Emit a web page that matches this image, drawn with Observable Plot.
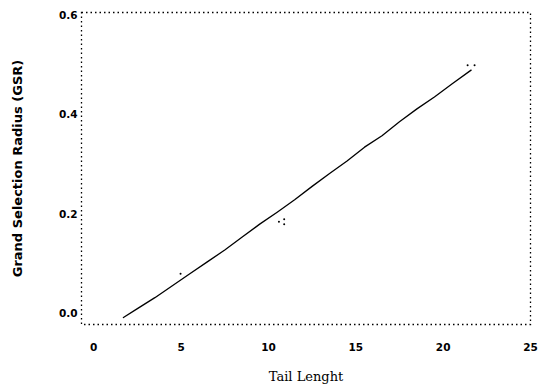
<!DOCTYPE html>
<html>
<head>
<meta charset="utf-8">
<script src="https://cdn.jsdelivr.net/npm/d3@7"></script>
<script src="https://cdn.jsdelivr.net/npm/@observablehq/plot@0.6"></script>
<style>
  html, body { margin: 0; padding: 0; background: #fff; }
</style>
</head>
<body>
<div id="chart"></div>
<script>
// Fitted line readings
const lineX = [1.7, 2.5, 3.5, 4.5, 5.5, 6.5, 7.5, 8.5, 9.5, 10.5, 11.5, 12.5, 13.5, 14.5, 15.5, 16.5, 17.5, 18.5, 19.5, 20.5, 21.6];
const lineY = [-0.008, 0.010, 0.032, 0.056, 0.080, 0.104, 0.128, 0.154, 0.180, 0.204, 0.229, 0.256, 0.282, 0.307, 0.335, 0.358, 0.386, 0.412, 0.436, 0.462, 0.490];
// Scattered points
const ptX = [4.97, 10.6, 10.9, 10.9, 21.4, 21.8];
const ptY = [0.080, 0.185, 0.190, 0.180, 0.500, 0.500];
// Tick labels
const xTicks = [0, 5, 10, 15, 20, 25];
const yTicks = [0, 0.2, 0.4, 0.6];

const lineData = lineX.map((x, i) => ({x, y: lineY[i]}));
const ptData = ptX.map((x, i) => ({x, y: ptY[i]}));

const tickFont = {fontFamily: "DejaVu Sans", fontSize: 10.5, fontWeight: "bold"};

const chart = Plot.plot({
  width: 539,
  height: 389,
  marginLeft: 81,
  marginRight: 9,
  marginTop: 12,
  marginBottom: 65,
  style: {background: "#fff", color: "#000"},
  x: {domain: [-0.7, 25]},
  y: {domain: [-0.022, 0.606]},
  marks: [
    Plot.frame({stroke: "#000", strokeDasharray: "1.5,3", strokeWidth: 1.3}),
    Plot.axisX({
      ticks: xTicks, tickSize: 0, tickPadding: 19,
      tickFormat: d => String(d),
      ...tickFont,
      label: null
    }),
    Plot.axisX({
      ticks: [], label: "Tail Lenght", labelAnchor: "center", labelArrow: "none",
      labelOffset: 56, fontFamily: "DejaVu Serif", fontSize: 13, fontWeight: "normal"
    }),
    Plot.axisY({
      ticks: yTicks, tickSize: 0, tickPadding: 4,
      tickFormat: d => d.toFixed(1),
      ...tickFont,
      label: null
    }),
    Plot.axisY({
      ticks: [], label: "Grand Selection Radius (GSR)", labelAnchor: "center", labelArrow: "none",
      labelOffset: 69, fontFamily: "DejaVu Sans", fontSize: 13, fontWeight: "bold"
    }),
    Plot.line(lineData, {x: "x", y: "y", stroke: "#000", strokeWidth: 1.3}),
    Plot.dot(ptData, {x: "x", y: "y", r: 1, fill: "#000", stroke: null})
  ]
});

document.getElementById("chart").appendChild(chart);
</script>
</body>
</html>
